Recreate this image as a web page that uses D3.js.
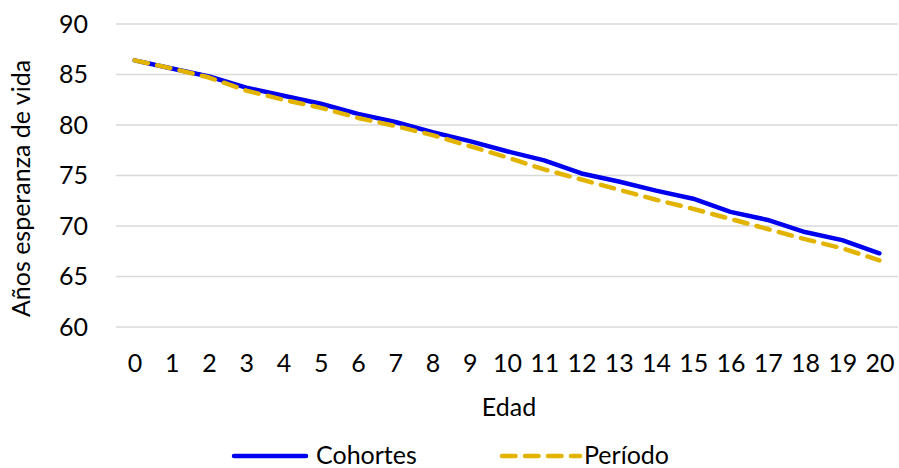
<!DOCTYPE html>
<html>
<head>
<meta charset="utf-8">
<script src="https://cdn.jsdelivr.net/npm/d3@7"></script>
<style>
  html, body { margin: 0; padding: 0; background: #fff; }
  svg { display: block; font-family: Lato, "Open Sans", sans-serif; }
</style>
</head>
<body>
<svg id="chart" width="899" height="468"></svg>
<script>
const categories = ["0","1","2","3","4","5","6","7","8","9","10","11","12","13","14","15","16","17","18","19","20"];
const cohortes = [86.4, 85.6, 84.8, 83.7, 82.9, 82.1, 81.1, 80.3, 79.3, 78.4, 77.4, 76.5, 75.2, 74.4, 73.5, 72.7, 71.4, 70.6, 69.4, 68.6, 67.3];
const periodo  = [86.4, 85.6, 84.7, 83.4, 82.5, 81.7, 80.7, 79.9, 79.0, 77.9, 76.8, 75.6, 74.6, 73.6, 72.6, 71.7, 70.7, 69.7, 68.7, 67.8, 66.6];
const yTicks = [60, 65, 70, 75, 80, 85, 90];
const seriesNames = ["Cohortes", "Período"];
const xTitle = "Edad";
const yTitle = "Años esperanza de vida";

(function () {
const svg = d3.select("#chart");
const pLeft = 116, pRight = 898, pTop = 24, pBottom = 327;
const fs = 25;

const x = d3.scalePoint().domain(categories).range([pLeft, pRight]).padding(0.5);
const y = d3.scaleLinear().domain([60, 90]).range([pBottom, pTop]);

// gridlines
svg.append("g").selectAll("line").data(yTicks).join("line")
  .attr("x1", pLeft).attr("x2", pRight)
  .attr("y1", d => y(d)).attr("y2", d => y(d))
  .attr("stroke", "#d9d9d9").attr("stroke-width", 1.5);

// y axis labels
const yAxis = svg.append("g").attr("transform", `translate(${pLeft},0)`)
  .call(d3.axisLeft(y).tickValues(yTicks).tickSize(0).tickPadding(28));
yAxis.select(".domain").remove();
yAxis.selectAll("text").attr("font-size", fs).attr("fill", "#000").attr("font-family", "Lato");

// x axis labels
const xAxis = svg.append("g").attr("transform", `translate(0,${pBottom})`)
  .call(d3.axisBottom(x).tickSize(0).tickPadding(27));
xAxis.select(".domain").remove();
xAxis.selectAll("text").attr("font-size", fs).attr("fill", "#000").attr("font-family", "Lato");

// titles
svg.append("text").attr("x", 509).attr("y", 416)
  .attr("text-anchor", "middle").attr("font-size", fs).attr("fill", "#000").text(xTitle);
svg.append("text").attr("transform", `translate(30,${(pTop + pBottom) / 2 + 13}) rotate(-90)`)
  .attr("text-anchor", "middle").attr("font-size", fs).attr("fill", "#000").text(yTitle);

const line = d3.line().x((d, i) => x(categories[i])).y(d => y(d));

svg.append("path").datum(cohortes).attr("d", line)
  .attr("fill", "none").attr("stroke", "#0000ee").attr("stroke-width", 4.5)
  .attr("stroke-linejoin", "round").attr("stroke-linecap", "round");
svg.append("path").datum(periodo).attr("d", line)
  .attr("fill", "none").attr("stroke", "#e2b400").attr("stroke-width", 4.5)
  .attr("stroke-dasharray", "13.5,9.5")
  .attr("stroke-linejoin", "round").attr("stroke-linecap", "round");

// legend
const ly = 456;
svg.append("line").attr("x1", 234).attr("x2", 306).attr("y1", ly).attr("y2", ly)
  .attr("stroke", "#0000ee").attr("stroke-width", 4.5).attr("stroke-linecap", "round");
svg.append("text").attr("x", 316).attr("y", ly + 8).attr("font-size", fs).attr("fill", "#000").text(seriesNames[0]);
svg.append("line").attr("x1", 502).attr("x2", 580).attr("y1", ly).attr("y2", ly)
  .attr("stroke", "#e2b400").attr("stroke-width", 4.5).attr("stroke-linecap", "round")
  .attr("stroke-dasharray", "13.5,9.5");
svg.append("text").attr("x", 584).attr("y", ly + 8).attr("font-size", fs).attr("fill", "#000").text(seriesNames[1]);
})();
</script>
</body>
</html>
